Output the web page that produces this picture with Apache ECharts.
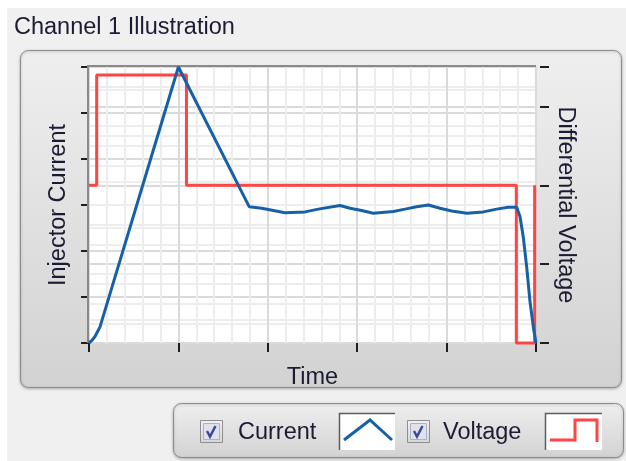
<!DOCTYPE html>
<html>
<head>
<meta charset="utf-8">
<script src="https://cdn.jsdelivr.net/npm/echarts@6/dist/echarts.min.js"></script>
<style>
  html, body { margin: 0; padding: 0; background: #ffffff; }
  #chart { width: 626px; height: 461px; }
</style>
</head>
<body>
<div id="chart"></div>
<script>
// Injector current and differential voltage for one channel (arbitrary units).
const timeRange = [0, 5];
const currentRange = [0, 6];
const voltageRange = [0, 3.5];

// Injector current trace: ramp to peak, fall to hold level, ripple, then turn-off.
const currentTime  = [0, 0.03, 0.067, 0.123, 1.0, 1.793, 1.932, 2.062, 2.192, 2.416, 2.565, 2.808,
                      2.919, 3.05, 3.18, 3.404, 3.535, 3.665, 3.795, 3.926, 4.057, 4.228, 4.41,
                      4.56, 4.69, 4.784, 4.821, 4.858, 4.896, 4.933, 4.97, 5.0];
const currentLevel = [0, 0.05, 0.14, 0.35, 6.0, 2.96, 2.93, 2.88, 2.83, 2.85, 2.91, 2.99,
                      2.93, 2.88, 2.82, 2.86, 2.91, 2.96, 3.0, 2.93, 2.87, 2.82, 2.85,
                      2.91, 2.95, 2.95, 2.75, 2.3, 1.65, 0.9, 0.35, 0];

// Differential voltage trace (step levels at each switching instant).
const voltageTime  = [0, 0.086, 1.09, 4.78, 4.985];
const voltageLevel = [2.0, 3.4, 2.0, 0, 2.0];

const FONT = 'Liberation Sans';
const INK = '#1b1b33';
const GRID = { left: 89, top: 67, right: 90, bottom: 118 };
const W = 626, H = 461;
const zip = (xs, ys) => xs.map((x, i) => [x, ys[i]]);

const panelFill = {
  type: 'linear', x: 0, y: 0, x2: 0, y2: 1,
  colorStops: [{ offset: 0, color: '#efefef' }, { offset: 1, color: '#d2d2d2' }]
};
const panelStyle = {
  fill: panelFill, stroke: '#8b8b8b', lineWidth: 1,
  shadowBlur: 3, shadowOffsetY: 1, shadowColor: 'rgba(0,0,0,0.25)'
};

function checkbox(x, y) {
  return [
    { type: 'rect', z: 10, silent: true, shape: { x: x + 0.5, y: y + 0.5, width: 22, height: 22 },
      style: { fill: { type: 'linear', x: 0, y: 0, x2: 0, y2: 1,
        colorStops: [{ offset: 0, color: '#f2f2f2' }, { offset: 1, color: '#d6d6d6' }] },
        stroke: '#8e8e8e', lineWidth: 1 } },
    { type: 'rect', z: 10, silent: true, shape: { x: x + 3.5, y: y + 3.5, width: 16, height: 16 },
      style: { fill: '#dfe2ec', stroke: '#aeb2c2', lineWidth: 1 } },
    { type: 'polyline', z: 11, silent: true,
      shape: { points: [[x + 7, y + 11], [x + 10, y + 16.5], [x + 15.5, y + 6]] },
      style: { stroke: '#3b4a98', lineWidth: 2.5, fill: null } }
  ];
}

function swatch(x, y, w, h, points, color) {
  return [
    { type: 'rect', z: 10, silent: true, shape: { x: x, y: y, width: w, height: h },
      style: { fill: '#ffffff' } },
    { type: 'polyline', z: 11, silent: true,
      shape: { points: [[x + 0.5, y + h], [x + 0.5, y + 0.5], [x + w, y + 0.5]] },
      style: { stroke: '#5c5c5c', lineWidth: 1.5, fill: null } },
    { type: 'polyline', z: 11, silent: true, shape: { points: points },
      style: { stroke: color, lineWidth: 3, fill: null, lineJoin: 'miter' } }
  ];
}

function label(text, x, y) {
  return { type: 'text', z: 11, silent: true, x: x, y: y,
    style: { text: text, fill: INK, font: '23.5px "' + FONT + '"', verticalAlign: 'middle', align: 'left' } };
}

const chart = echarts.init(document.getElementById('chart'), null, { renderer: 'canvas', width: W, height: H });

const nameStyle = { fontFamily: FONT, fontSize: 23.5, color: INK };
const tickStyle = { color: '#1e1e1e', width: 2 };
const majorGrid = { color: '#dadada', width: 2 };
const minorGrid = { color: '#ededed', width: 2 };

chart.setOption({
  animation: false,
  backgroundColor: '#ffffff',
  title: {
    text: 'Channel 1 Illustration', left: 14, top: 16, padding: 0,
    textStyle: { fontFamily: FONT, fontSize: 23.5, fontWeight: 'normal', color: INK }
  },
  grid: {
    left: GRID.left, top: GRID.top, right: GRID.right, bottom: GRID.bottom,
    show: true, backgroundColor: '#ffffff', borderWidth: 0
  },
  xAxis: [
    {
      type: 'value', min: timeRange[0], max: timeRange[1], interval: 1, position: 'bottom', offset: 5,
      name: 'Time', nameLocation: 'middle', nameGap: 18, nameTextStyle: nameStyle,
      axisLine: { show: false },
      axisTick: { show: true, length: 9, lineStyle: tickStyle },
      axisLabel: { show: false },
      splitLine: { show: true, lineStyle: majorGrid },
      minorTick: { show: false, splitNumber: 5 },
      minorSplitLine: { show: true, lineStyle: minorGrid }
    }
  ],
  yAxis: [
    {
      type: 'value', min: currentRange[0], max: currentRange[1], interval: 1, position: 'left', offset: 5,
      name: 'Injector Current', nameLocation: 'middle', nameRotate: 90, nameGap: 13, nameTextStyle: nameStyle,
      axisLine: { show: false },
      axisTick: { show: true, length: 8, lineStyle: tickStyle },
      axisLabel: { show: false },
      splitLine: { show: true, lineStyle: majorGrid },
      minorTick: { show: false, splitNumber: 2 },
      minorSplitLine: { show: true, lineStyle: minorGrid }
    },
    {
      type: 'value', min: voltageRange[0], max: voltageRange[1], interval: 1, position: 'right', offset: 4,
      name: 'Differential Voltage', nameLocation: 'middle', nameRotate: -90, nameGap: 13, nameTextStyle: nameStyle,
      axisLine: { show: false },
      axisTick: { show: true, length: 9, lineStyle: tickStyle },
      axisLabel: { show: false },
      splitLine: { show: true, lineStyle: majorGrid },
      minorTick: { show: false, splitNumber: 4 },
      minorSplitLine: { show: true, lineStyle: minorGrid }
    }
  ],
  series: [
    {
      name: 'Voltage', type: 'line', xAxisIndex: 0, yAxisIndex: 1, step: 'end',
      data: zip(voltageTime, voltageLevel), showSymbol: false, clip: false,
      lineStyle: { color: '#ff4444', width: 3 }, z: 3
    },
    {
      name: 'Current', type: 'line', xAxisIndex: 0, yAxisIndex: 0,
      data: zip(currentTime, currentLevel), showSymbol: false, clip: false,
      lineStyle: { color: '#1660a8', width: 3 }, z: 4
    }
  ],
  graphic: [
    { type: 'rect', z: -10, silent: true, shape: { x: 7, y: 8, width: 619, height: 453 }, style: { fill: '#f0f0f0' } },
    { type: 'rect', z: -9, silent: true, shape: { x: 20.5, y: 50.5, width: 601, height: 337, r: 8 }, style: panelStyle },
    // sunken frame along the plot's top and left edges
    { type: 'polyline', z: 1, silent: true,
      shape: { points: [[GRID.left - 1, H - GRID.bottom], [GRID.left - 1, GRID.top - 1], [W - GRID.right, GRID.top - 1]] },
      style: { stroke: '#8a8a8a', lineWidth: 2, fill: null } },
    { type: 'rect', z: -9, silent: true, shape: { x: 173.5, y: 403.5, width: 450, height: 54, r: 8 }, style: panelStyle },
    ...checkbox(200, 420),
    label('Current', 238, 433),
    ...swatch(339, 413, 56, 37, [[344, 440], [370, 420], [392, 440]], '#1660a8'),
    ...checkbox(407, 420),
    label('Voltage', 443, 433),
    ...swatch(545, 413, 57, 37, [[550, 440], [575, 440], [575, 420], [597, 420], [597, 442]], '#ff4444')
  ]
});
</script>
</body>
</html>
